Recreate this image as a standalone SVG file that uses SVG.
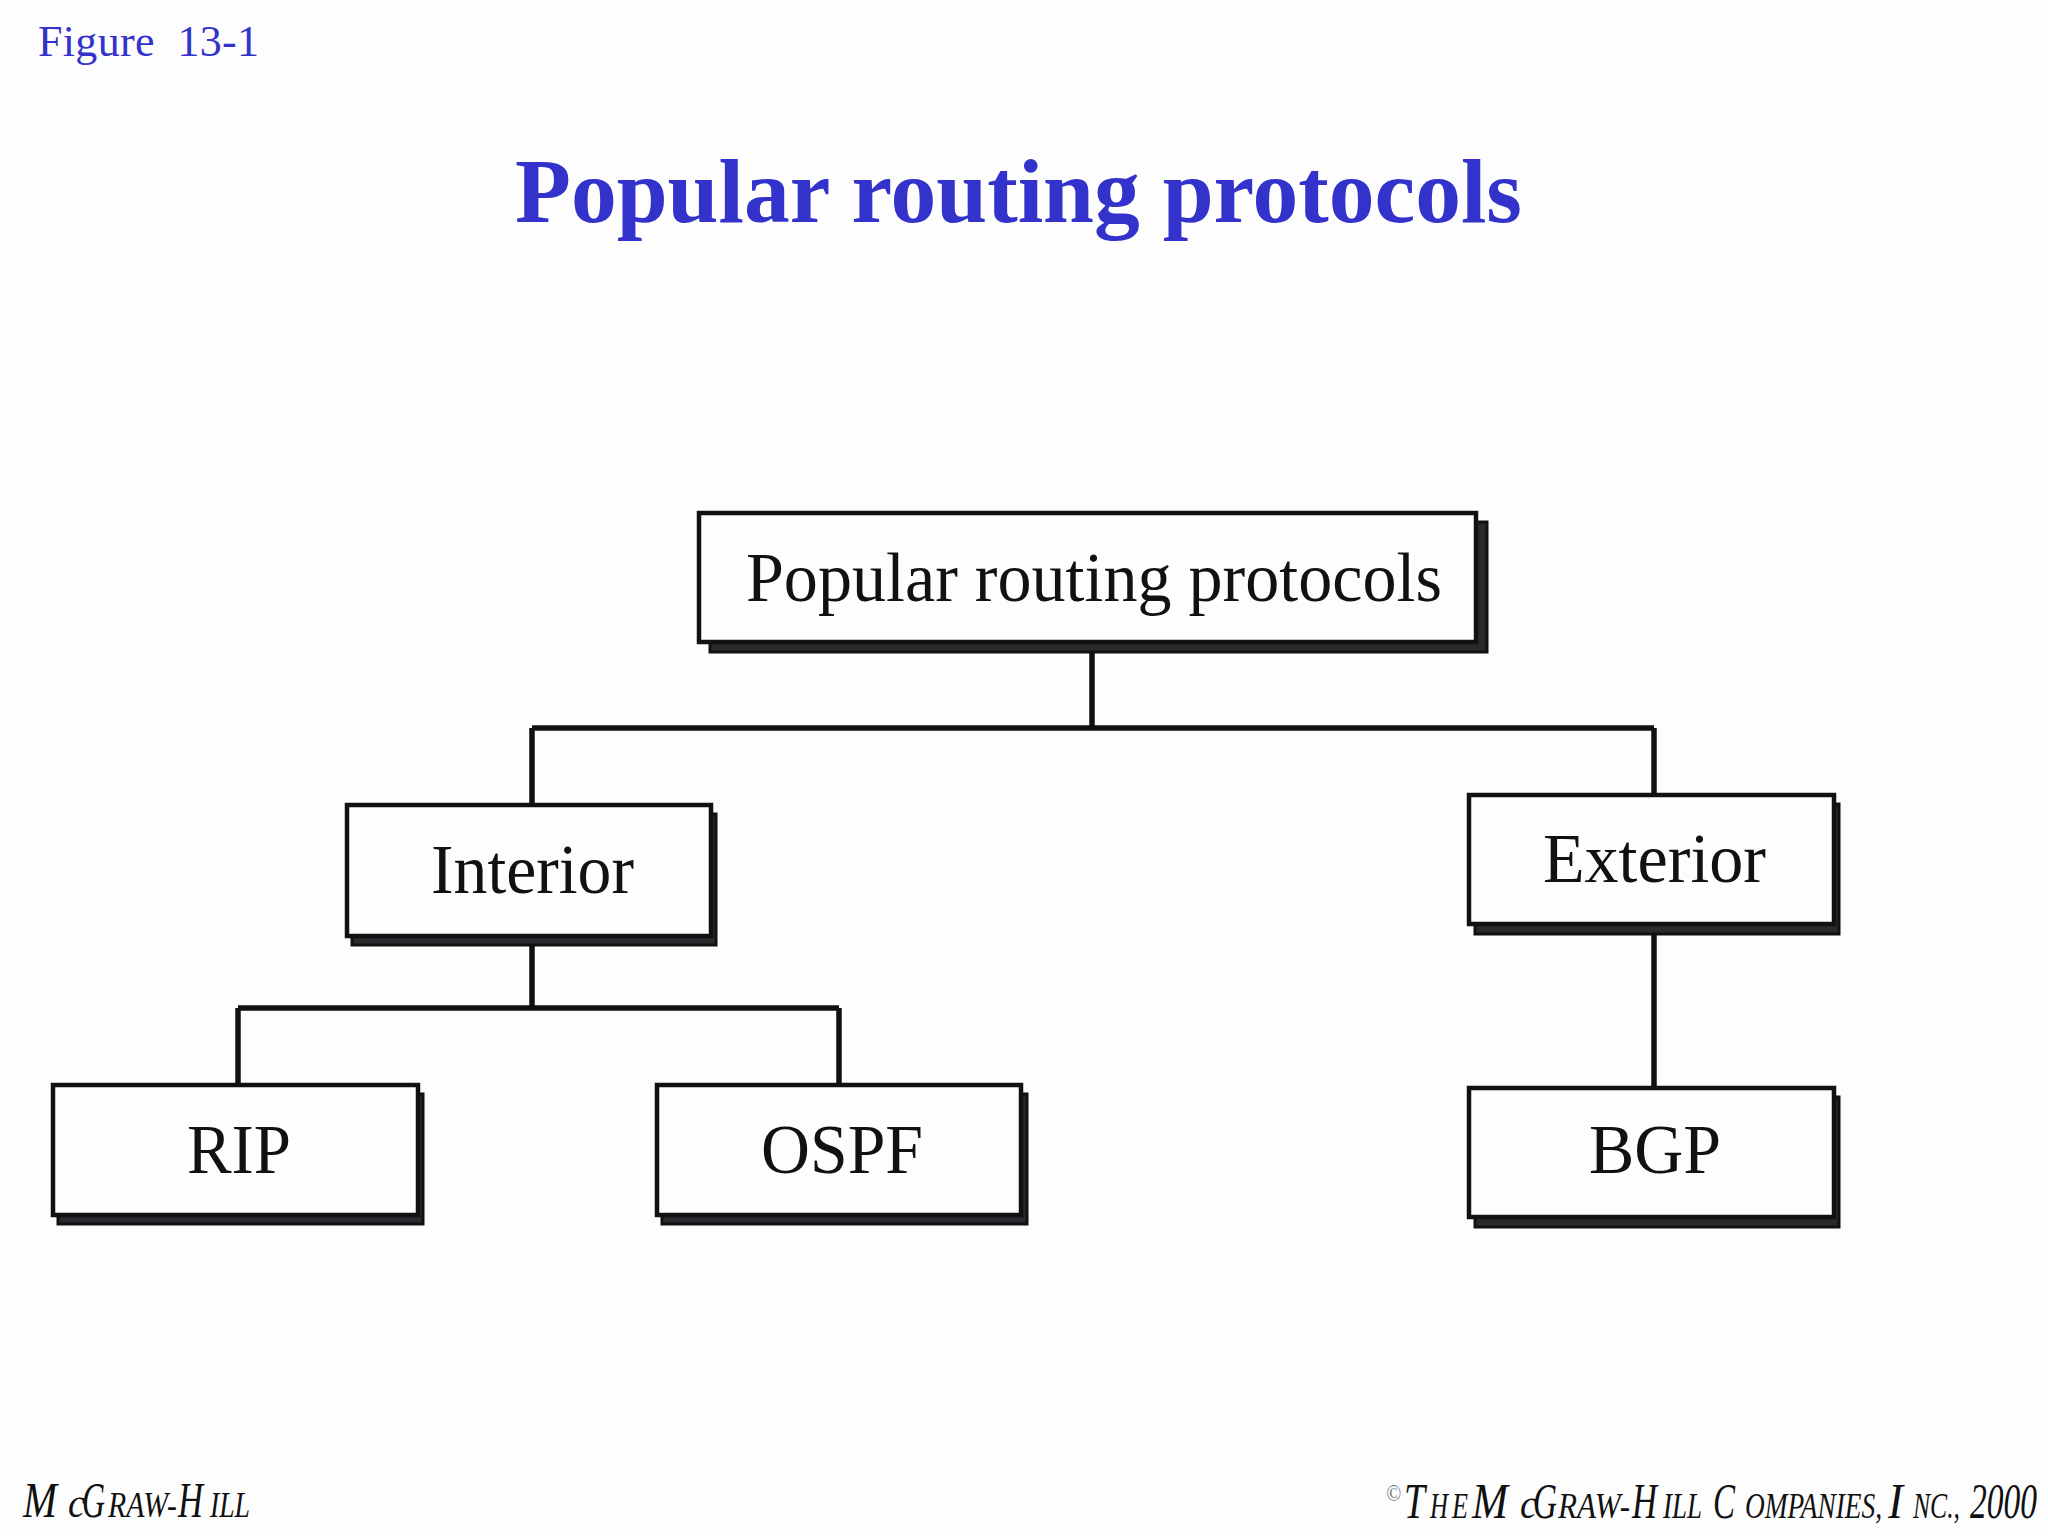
<svg xmlns="http://www.w3.org/2000/svg" width="2048" height="1536" viewBox="0 0 2048 1536">
<style>
text{font-family:"Liberation Serif","Times New Roman",serif}
.blue{fill:#3333cc}
.lbl{font-size:70px;fill:#111}
.box{fill:#fefdfe;stroke:#111;stroke-width:4.5}
.sh{fill:#2a2a2e;stroke:#111;stroke-width:3}
.con{fill:none;stroke:#111;stroke-width:5.5}
.foot{font-style:italic;fill:#111}
.b{font-size:50px}
.s{font-size:35px}
.c{font-size:42px}
</style>
<rect width="2048" height="1536" fill="#fefdfe"/>
<text class="blue" x="38" y="56" font-size="44" textLength="221" lengthAdjust="spacing" xml:space="preserve">Figure  13-1</text>
<text class="blue" x="515" y="222" font-size="92" font-weight="700" textLength="1007" lengthAdjust="spacingAndGlyphs">Popular routing protocols</text>
<g id="connectors">
<path class="con" d="M1092 650V728M532 728H1654M532 728V806M1654 728V796"/>
<path class="con" d="M532 940V1008M238 1008H839M238 1008V1086M839 1008V1086"/>
<path class="con" d="M1654 930V1088"/>
</g>
<g id="node-top">
<rect class="sh" x="710" y="522" width="777" height="130"/>
<rect class="box" x="699" y="513" width="777" height="129"/>
<text class="lbl" x="746" y="601" textLength="696" lengthAdjust="spacingAndGlyphs">Popular routing protocols</text>
</g>
<g id="node-interior">
<rect class="sh" x="352" y="814" width="364" height="131"/>
<rect class="box" x="347" y="805" width="364" height="131"/>
<text class="lbl" x="431" y="893" textLength="203" lengthAdjust="spacingAndGlyphs">Interior</text>
</g>
<g id="node-exterior">
<rect class="sh" x="1475" y="804" width="364" height="130"/>
<rect class="box" x="1469" y="795" width="365" height="129"/>
<text class="lbl" x="1543" y="882" textLength="223" lengthAdjust="spacingAndGlyphs">Exterior</text>
</g>
<g id="node-rip">
<rect class="sh" x="58" y="1094" width="365" height="130"/>
<rect class="box" x="53" y="1085" width="365" height="130"/>
<text class="lbl" x="187" y="1173" textLength="104" lengthAdjust="spacingAndGlyphs">RIP</text>
</g>
<g id="node-ospf">
<rect class="sh" x="662" y="1094" width="365" height="130"/>
<rect class="box" x="657" y="1085" width="364" height="130"/>
<text class="lbl" x="761" y="1173" textLength="162" lengthAdjust="spacingAndGlyphs">OSPF</text>
</g>
<g id="node-bgp">
<rect class="sh" x="1475" y="1097" width="364" height="130"/>
<rect class="box" x="1469" y="1088" width="365" height="129"/>
<text class="lbl" x="1589" y="1173" textLength="132" lengthAdjust="spacingAndGlyphs">BGP</text>
</g>
<text class="foot" y="1517"><tspan class="b" x="23" textLength="34" lengthAdjust="spacingAndGlyphs">M</tspan><tspan class="c" x="68" textLength="17" lengthAdjust="spacingAndGlyphs">c</tspan><tspan class="b" x="82" textLength="23" lengthAdjust="spacingAndGlyphs">G</tspan><tspan class="s" x="108" textLength="69" lengthAdjust="spacingAndGlyphs">RAW-</tspan><tspan class="b" x="178" textLength="25" lengthAdjust="spacingAndGlyphs">H</tspan><tspan class="s" x="210" textLength="40" lengthAdjust="spacingAndGlyphs">ILL</tspan></text>
<text class="foot" y="1518"><tspan font-size="24" fill="#777" x="1386" y="1501" textLength="15" lengthAdjust="spacingAndGlyphs">©</tspan><tspan class="b" x="1404" y="1518" textLength="21" lengthAdjust="spacingAndGlyphs">T</tspan><tspan class="s" x="1430" textLength="18" lengthAdjust="spacingAndGlyphs">H</tspan><tspan class="s" x="1452" textLength="16" lengthAdjust="spacingAndGlyphs">E</tspan><tspan class="b" x="1472" textLength="36" lengthAdjust="spacingAndGlyphs">M</tspan><tspan class="c" x="1520" textLength="17" lengthAdjust="spacingAndGlyphs">c</tspan><tspan class="b" x="1533" textLength="24" lengthAdjust="spacingAndGlyphs">G</tspan><tspan class="s" x="1558" textLength="72" lengthAdjust="spacingAndGlyphs">RAW-</tspan><tspan class="b" x="1632" textLength="25" lengthAdjust="spacingAndGlyphs">H</tspan><tspan class="s" x="1663" textLength="39" lengthAdjust="spacingAndGlyphs">ILL</tspan><tspan class="b" x="1713" textLength="22" lengthAdjust="spacingAndGlyphs">C</tspan><tspan class="s" x="1745" textLength="137" lengthAdjust="spacingAndGlyphs">OMPANIES,</tspan><tspan class="b" x="1888" textLength="15" lengthAdjust="spacingAndGlyphs">I</tspan><tspan class="s" x="1913" textLength="47" lengthAdjust="spacingAndGlyphs">NC.,</tspan><tspan class="b" x="1970" textLength="67" lengthAdjust="spacingAndGlyphs">2000</tspan></text>
</svg>
